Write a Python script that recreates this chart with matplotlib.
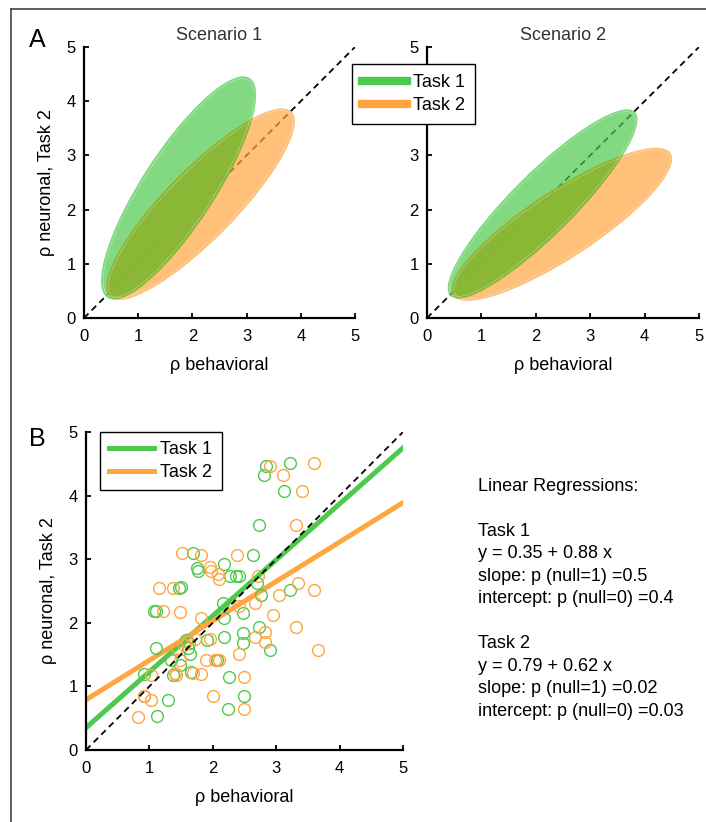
import numpy as np
import matplotlib
matplotlib.use("Agg")
from matplotlib import pyplot as plt
from matplotlib.patches import Ellipse
from matplotlib.lines import Line2D

plt.rcParams['font.family'] = ['Liberation Sans', 'DejaVu Sans']

# ---- data ----
labels = ["Task 1", "Task 2"]
colors = ["#4DC94D", "#FFA640"]
overlap_color = "#76B82E"

# panel A ellipses: centre x, centre y, major, minor, angle (deg)
scen1_ell = [(1.745, 2.40, 4.83, 1.35, 57.0),
             (2.15, 2.10, 4.79, 1.30, 45.5)]
scen2_ell = [(2.125, 2.105, 4.80, 1.15, 45.0),
             (2.48, 1.73, 4.78, 1.25, 33.3)]
scenario_titles = ["Scenario 1", "Scenario 2"]

# panel B scatter
task1_x = [3.22, 2.84, 2.80, 3.13, 2.73, 1.69, 2.64, 2.18, 1.75, 1.77, 2.27, 2.37,
           2.42, 1.47, 1.50, 1.08, 1.10, 2.16, 2.18, 2.47, 2.69, 2.76, 3.22, 2.73,
           2.47, 2.47, 2.17, 2.90, 1.10, 1.58, 1.61, 1.64, 1.91, 2.06, 1.34, 0.91,
           1.37, 1.65, 2.25, 0.91, 1.29, 1.12, 2.24, 2.49, 1.49, 1.62]
task1_y = [4.52, 4.47, 4.32, 4.07, 3.53, 3.10, 3.07, 2.92, 2.86, 2.82, 2.74, 2.74,
           2.74, 2.55, 2.57, 2.19, 2.18, 2.31, 2.07, 2.15, 2.62, 2.44, 2.52, 1.94,
           1.84, 1.69, 1.77, 1.58, 1.60, 1.73, 1.61, 1.51, 1.73, 1.42, 1.41, 1.19,
           1.18, 1.22, 1.15, 0.85, 0.78, 0.53, 0.65, 0.85, 1.34, 1.68]
task2_x = [3.60, 2.90, 3.10, 3.41, 3.31, 1.52, 1.81, 2.38, 1.96, 1.97, 2.08, 2.10,
           1.15, 1.37, 1.21, 1.48, 2.72, 3.34, 3.04, 3.60, 2.67, 2.41, 2.95, 1.82,
           3.31, 2.82, 2.82, 2.66, 3.66, 1.95, 1.72, 1.44, 1.48, 2.10, 1.89, 2.42,
           1.40, 1.42, 1.69, 1.81, 1.02, 2.49, 2.00, 0.91, 1.03, 0.82, 2.49, 1.55,
           1.60, 2.03]
task2_y = [4.52, 4.47, 4.32, 4.07, 3.53, 3.10, 3.07, 3.07, 2.88, 2.81, 2.76, 2.69,
           2.55, 2.55, 2.19, 2.17, 2.73, 2.62, 2.43, 2.52, 2.31, 2.27, 2.13, 2.08,
           1.94, 1.85, 1.70, 1.77, 1.58, 1.74, 1.74, 1.61, 1.42, 1.42, 1.41, 1.51,
           1.21, 1.18, 1.21, 1.20, 1.18, 1.15, 0.85, 0.85, 0.79, 0.52, 0.65, 1.65,
           1.72, 1.41]

intercepts = [0.35, 0.79]
slopes = [0.88, 0.62]
slope_p = ["0.5", "0.02"]
intercept_p = ["0.4", "0.03"]

W, H = 706, 822
fig = plt.figure(figsize=(W / 100, H / 100), dpi=100)


def px_axes(x0, y0, x1, y1):
    # pixel box (top-left origin) -> figure fraction
    return fig.add_axes([x0 / W, 1 - y1 / H, (x1 - x0) / W, (y1 - y0) / H])


def style_axes(ax):
    ax.set_xlim(0, 5)
    ax.set_ylim(0, 5)
    ax.set_xticks(range(6))
    ax.set_yticks(range(6))
    for s in ["top", "right"]:
        ax.spines[s].set_visible(False)
    for s in ["left", "bottom"]:
        ax.spines[s].set_linewidth(1.6)
    ax.tick_params(direction="in", length=3.5, width=1.3, labelsize=12,
                   colors="black")
    ax.tick_params(axis="x", pad=8)
    ax.tick_params(axis="y", pad=6)
    ax.patch.set_alpha(0)


# ---- panel A ----
axA = [px_axes(84, 47, 355, 318), px_axes(427, 47, 699, 318)]
for ax, ells, title in zip(axA, [scen1_ell, scen2_ell], scenario_titles):
    style_axes(ax)
    ax.plot([0, 5], [0, 5], color="black", lw=1.3, dashes=(3.5, 2.5), zorder=1)
    patches = []
    for (cx, cy, w, h, ang), c in zip(ells, colors):
        e = Ellipse((cx, cy), w, h, angle=ang, facecolor=c, edgecolor="none",
                    alpha=0.7, zorder=2)
        ax.add_patch(e)
        patches.append(e)
        ax.add_patch(Ellipse((cx, cy), w - 0.09, h - 0.09, angle=ang,
                             facecolor="none", edgecolor="white", lw=0.5,
                             alpha=0.35, zorder=4))
    # darker overlap region
    cx, cy, w, h, ang = ells[1]
    ov = Ellipse((cx, cy), w, h, angle=ang, facecolor=overlap_color,
                 edgecolor="none", alpha=0.8, zorder=3)
    ax.add_patch(ov)
    ov.set_clip_path(patches[0])
    ax.set_title(title, fontsize=13, color="#333333", pad=5)
    ax.set_xlabel("ρ behavioral", fontsize=13, labelpad=9)
axA[0].set_ylabel("ρ neuronal, Task 2", fontsize=13, labelpad=8)
# the "4" of the right panel sits under the legend
axA[1].get_yticklabels()[4].set_visible(False)

legA_handles = [Line2D([], [], color=c, lw=6) for c in colors]
axA[1].legend(legA_handles, labels, loc="upper left",
              bbox_to_anchor=(352 / W, 1 - 64 / H), bbox_transform=fig.transFigure,
              fontsize=13, fancybox=False, framealpha=1, edgecolor="black",
              handlelength=2.5, handletextpad=0.35, borderpad=0.55,
              labelspacing=0.35, borderaxespad=0)

# ---- panel B ----
axB = px_axes(86, 432, 403, 750)
style_axes(axB)
xs = np.array([0, 5])
lines = []
for b0, b1, c in zip(intercepts, slopes, colors):
    ln, = axB.plot(xs, b0 + b1 * xs, color=c, lw=3.6, zorder=2)
    lines.append(ln)
for x, y, c in zip([task1_x, task2_x], [task1_y, task2_y], colors):
    axB.plot(x, y, "o", mfc="none", mec=c, ms=8.5, mew=1.0, zorder=3)
axB.plot([0, 5], [0, 5], color="black", lw=1.3, dashes=(3.5, 2.5), zorder=4)
axB.set_xlabel("ρ behavioral", fontsize=13, labelpad=9)
axB.set_ylabel("ρ neuronal, Task 2", fontsize=13, labelpad=8)
axB.legend(lines, labels, loc="upper left",
           bbox_to_anchor=(100 / W, 1 - 432 / H), bbox_transform=fig.transFigure,
           fontsize=13, fancybox=False, framealpha=1, edgecolor="black",
           handlelength=2.5, handletextpad=0.35, borderpad=0.5,
           labelspacing=0.35, borderaxespad=0)

# regression text
txt = ["Linear Regressions:", ""]
for i in range(2):
    txt += [labels[i],
            f"y = {intercepts[i]:.2f} + {slopes[i]:.2f} x",
            f"slope: p (null=1) ={slope_p[i]}",
            f"intercept: p (null=0) ={intercept_p[i]}",
            ""]
for k, line in enumerate(txt):
    fig.text(478 / W, 1 - (486 + 22.5 * k) / H, line, fontsize=13,
             ha="left", va="center")

# panel letters
fig.text(37 / W, 1 - 40 / H, "A", fontsize=18, ha="center", va="center")
fig.text(37 / W, 1 - 439 / H, "B", fontsize=18, ha="center", va="center")

# frame lines
fig.add_artist(Line2D([11 / W, 1], [1 - 9 / H, 1 - 9 / H], color="#444444", lw=1.2))
fig.add_artist(Line2D([11 / W, 11 / W], [0, 1 - 9 / H], color="#444444", lw=1.2))

fig.savefig("out.png", dpi=100)
